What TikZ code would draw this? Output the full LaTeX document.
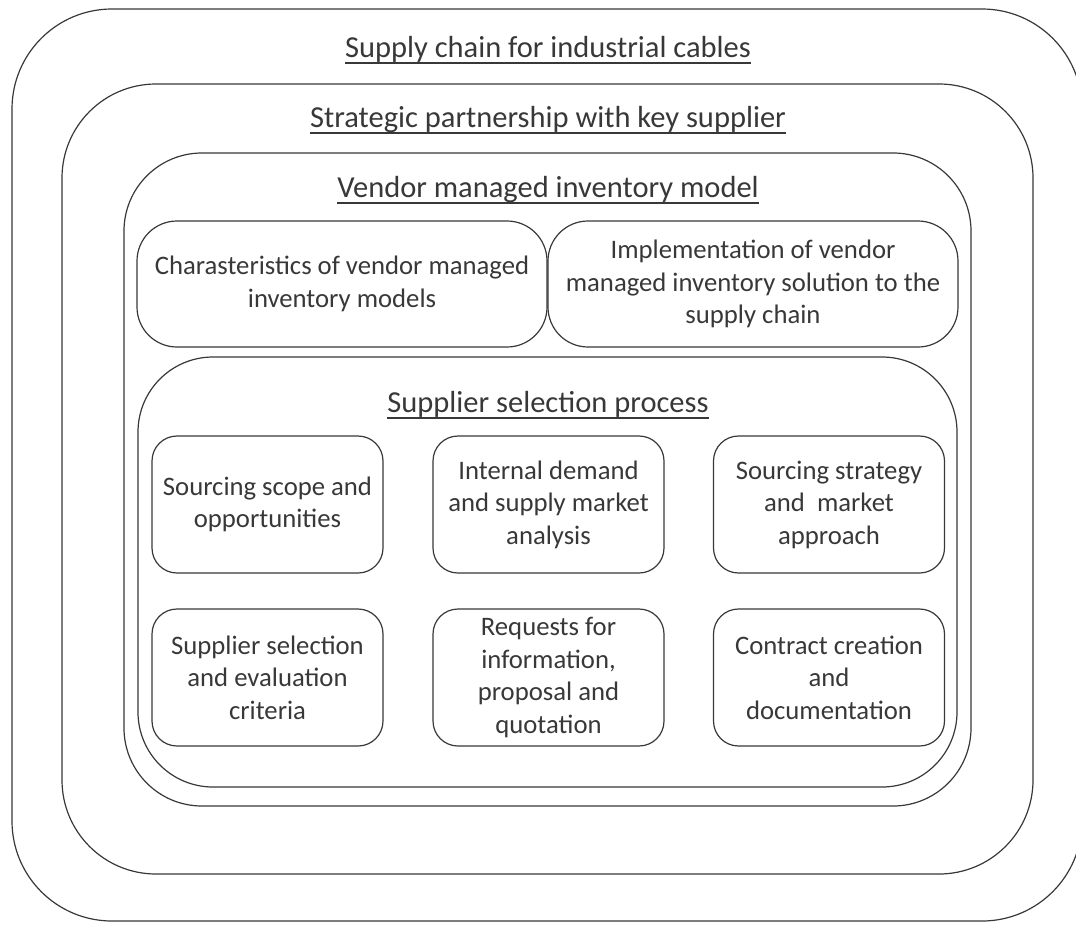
\documentclass[tikz,border=0pt]{standalone}
\usepackage{fontspec}
\setmainfont{Carlito}
\definecolor{linec}{gray}{0.22}
\definecolor{textc}{gray}{0.22}
\newcommand\tul[1]{\setbox0=\hbox{#1}\rlap{\rule[-7pt]{\wd0}{2pt}}\box0}
\newcommand\bodyfont{\fontsize{26.7}{32.5}\selectfont}
\newcommand\titlefont{\fontsize{30.5}{37}\selectfont}
\begin{document}
\begin{tikzpicture}[x=1pt,y=-1pt,
  frame/.style={draw=linec, line width=1.2pt},
  bigbox/.style={draw=linec, line width=1.2pt, rounded corners=40pt, minimum width=410pt, minimum height=126pt, inner sep=0pt, align=center, font=\bodyfont, text=textc},
  smallbox/.style={draw=linec, line width=1.2pt, rounded corners=25pt, minimum width=231pt, minimum height=137pt, inner sep=0pt, align=center, font=\bodyfont, text=textc},
  title/.style={anchor=base, inner sep=0pt, font=\titlefont, text=textc}]
\useasboundingbox (0,0) rectangle (1076,924);
% nested containers
\draw[frame, rounded corners=100pt] (12,9) rectangle (1082,921);
\draw[frame, rounded corners=94pt] (62,84) rectangle (1033,874);
\draw[frame, rounded corners=78pt] (124,153) rectangle (971,806);
\draw[frame, rounded corners=75pt] (138,357) rectangle (957,787);
% titles
\node[title] (t1) at (548,57) {\tul{Supply chain for industrial cables}};
\node[title] (t2) at (548,127) {\tul{Strategic partnership with key supplier}};
\node[title] (t3) at (548,197) {\tul{Vendor managed inventory model}};
\node[title] (t4) at (548,412) {\tul{Supplier selection process}};
% VMI boxes
\node[bigbox] (char) at (342,284) {Charasteristics of vendor managed\\inventory models};
\node[bigbox] (impl) at (753,284) {Implementation of vendor\\managed inventory solution to the\\supply chain};
% supplier selection steps
\node[smallbox] (s1) at (267.5,504.5) {Sourcing scope and\\opportunities};
\node[smallbox] (s2) at (548.5,504.5) {Internal demand\\and supply market\\analysis};
\node[smallbox] (s3) at (829,504.5) {Sourcing strategy\\and\ \ market\\approach};
\node[smallbox] (s4) at (267.5,677.5) {Supplier selection\\and evaluation\\criteria};
\node[smallbox] (s5) at (548.5,677.5) {Requests for\\information,\\proposal and\\quotation};
\node[smallbox] (s6) at (829,677.5) {Contract creation\\and\\documentation};
\end{tikzpicture}
\end{document}
